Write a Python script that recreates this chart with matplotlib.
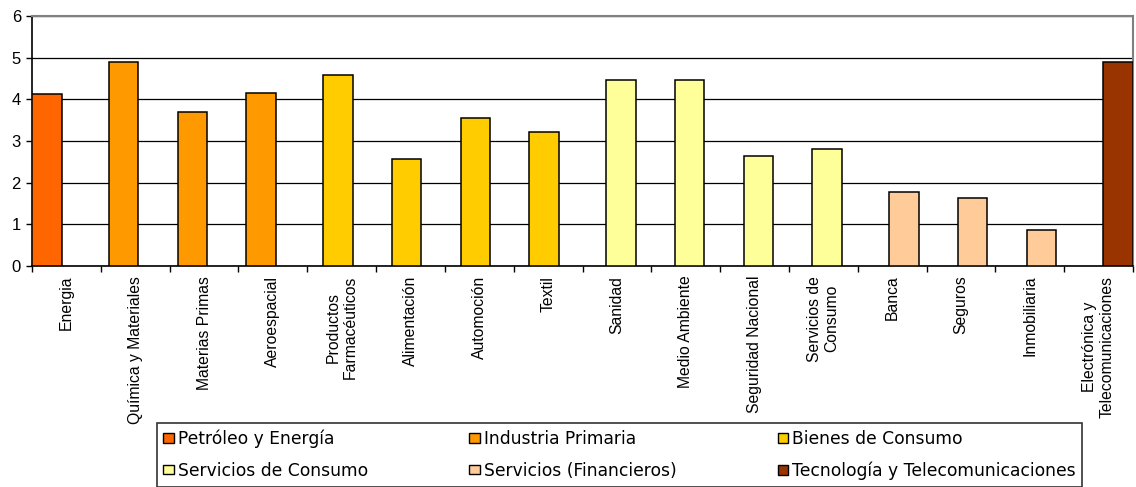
import numpy as np
import matplotlib.pyplot as plt
from matplotlib.patches import Patch

# sectors (x categories)
sectores = ['Energia', 'Química y Materiales', 'Materias Primas', 'Aeroespacial',
            'Productos\nFarmacéuticos', 'Alimentación', 'Automoción', 'Textil',
            'Sanidad', 'Medio Ambiente', 'Seguridad Nacional', 'Servicios de\nConsumo',
            'Banca', 'Seguros', 'Inmobiliaria', 'Electrónica y\nTelecomunicaciones']
valores = [4.12, 4.89, 3.69, 4.16, 4.59, 2.58, 3.55, 3.21,
           4.46, 4.46, 2.64, 2.82, 1.77, 1.63, 0.87, 4.89]
# which group each sector belongs to
grupo = [0, 1, 1, 1, 2, 2, 2, 2, 3, 3, 3, 3, 4, 4, 4, 5]

grupos = ['Petróleo y Energía', 'Industria Primaria', 'Bienes de Consumo',
          'Servicios de Consumo', 'Servicios (Financieros)', 'Tecnología y Telecomunicaciones']
colores = ['#FF6600', '#FF9900', '#FFCC00', '#FFFF99', '#FFCC99', '#993300']

plt.rcParams['font.family'] = ['Liberation Sans', 'DejaVu Sans']

fig = plt.figure(figsize=(11.36, 4.87), dpi=100)
ax = fig.add_axes([32 / 1136, 1 - 266 / 487, (1133 - 32) / 1136, 250 / 487])

n = len(sectores)
x = np.arange(n)
ancho = 0.43
for i in range(n):
    g = grupo[i]
    desp = (g - 2.5) * 0.113  # clustered-series offset
    ax.bar(x[i] + desp, valores[i], width=ancho, color=colores[g],
           edgecolor='black', linewidth=1.1, zorder=3)

ax.set_xlim(-0.5, n - 0.5)
ax.set_ylim(0, 6)
ax.set_yticks(range(7))
ax.yaxis.grid(True, color='black', linewidth=0.9, zorder=0)
ax.set_axisbelow(True)

ax.set_xticks(x)
ax.set_xticklabels(sectores, rotation=90, fontsize=11.3, va='top', ha='center',
                   multialignment='center')
ax.tick_params(axis='x', which='major', length=0, pad=7)
ax.set_xticks(np.arange(n + 1) - 0.5, minor=True)
ax.tick_params(axis='x', which='minor', length=4, width=1, direction='out')
ax.tick_params(axis='y', length=4, width=1, labelsize=12, pad=4)

for s in ['left', 'bottom']:
    ax.spines[s].set_color('black')
    ax.spines[s].set_linewidth(1.2)
for s in ['top', 'right']:
    ax.spines[s].set_color('#808080')
    ax.spines[s].set_linewidth(1.5)

# legend reads row by row, matplotlib fills column by column
orden = [0, 3, 1, 4, 2, 5]
handles = [Patch(facecolor=colores[k], edgecolor='black', linewidth=1) for k in orden]
etiquetas = [grupos[k] for k in orden]
leg = fig.legend(handles, etiquetas, ncol=3, loc='upper left',
                 bbox_to_anchor=(157 / 1136, 1 - 423 / 487),
                 prop={'family': 'DejaVu Sans', 'size': 12.3},
                 frameon=True, fancybox=False, edgecolor='black',
                 handlelength=0.6, handleheight=0.5, handletextpad=0.23,
                 columnspacing=5.95, labelspacing=0.8, borderpad=0.38,
                 borderaxespad=0)
leg.get_frame().set_linewidth(1.2)

fig.savefig('out.png', dpi=100)
